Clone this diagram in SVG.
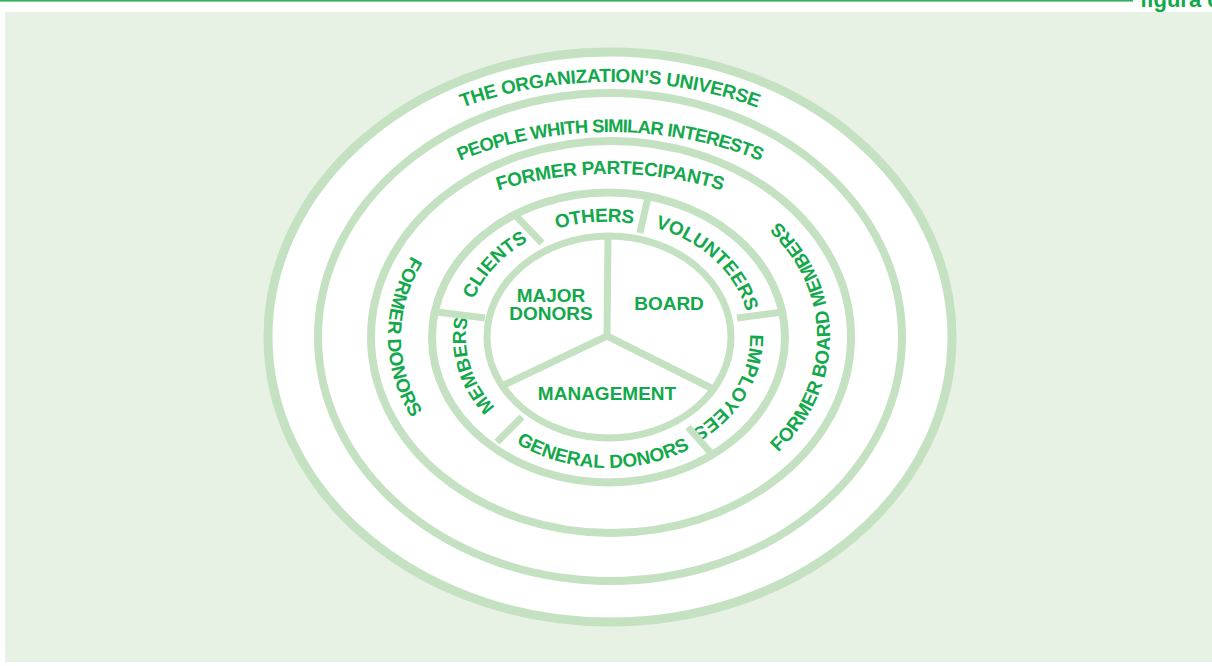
<svg xmlns="http://www.w3.org/2000/svg" width="1212" height="666" viewBox="0 0 1212 666">
<style>
.ring{fill:#ffffff;stroke:#c4e2c2;stroke-width:8}
.div{stroke:#c4e2c2;stroke-width:7;fill:none}
.lbl{font-family:"Liberation Sans",Arial,sans-serif;font-weight:bold;font-size:19px;fill:#12a84b}
.mid{text-anchor:middle}
</style>
<defs>
<path id="pUniverse" d="M 272 337 A 338 255 0 0 1 948 337"/>
<path id="pPeople" d="M 316 337 A 294 205 0 0 1 904 337"/>
<path id="pFormerPart" d="M 356 337 A 254 163 0 0 1 864 337"/>
<path id="pFormerDonors" d="M 498 181.1 A 220 180 0 0 0 498 492.9"/>
<path id="pFormerBoard" d="M 719 492.9 A 222 180 0 0 0 719 181.1"/>
<path id="pOthers" d="M 497 263.5 A 142 116 0 0 1 697.5 249"/>
<path id="pClients" d="M 468.2 357.1 A 142 116 0 0 1 583.3 222.8"/>
<path id="pVolunteers" d="M 609 221 A 142 116 0 0 1 747.5 358"/>
<path id="pEmployees" d="M 741.4 297.3 A 142 116 0 0 1 656.6 446"/>
<path id="pMembers" d="M 532.8 435.4 A 142 116 0 0 1 487.6 275.5"/>
<path id="pGeneral" d="M 483.8 417.1 A 157 131 0 0 0 724.1 425.2"/>
</defs>
<rect x="0" y="0" width="1212" height="666" fill="#ffffff"/>
<rect x="0" y="0" width="1133" height="1.6" fill="#2db35d"/>
<text x="1140" y="7" class="lbl" style="font-size:22px">figura c</text>
<rect x="5" y="12" width="1207" height="650" fill="#e7f1e4"/>

<g id="universe">
<ellipse class="ring" cx="610" cy="337" rx="342" ry="285" style="stroke-width:9"/>
<text class="lbl" style="letter-spacing:-0.3px"><textPath href="#pUniverse" startOffset="50%" class="mid">THE ORGANIZATION’S UNIVERSE</textPath></text>
</g>
<g id="similar-interests">
<ellipse class="ring" cx="610" cy="337" rx="292" ry="244"/>
<text class="lbl" style="font-size:18.5px;letter-spacing:-0.8px"><textPath href="#pPeople" startOffset="50%" class="mid">PEOPLE WHITH SIMILAR INTERESTS</textPath></text>
</g>
<g id="former">
<ellipse class="ring" cx="611" cy="337" rx="240" ry="196"/>
<text class="lbl" style="letter-spacing:-0.3px"><textPath href="#pFormerPart" startOffset="50%" class="mid">FORMER PARTECIPANTS</textPath></text>
<text class="lbl"><textPath href="#pFormerDonors" startOffset="50%" class="mid">FORMER DONORS</textPath></text>
<text class="lbl"><textPath href="#pFormerBoard" startOffset="50%" class="mid">FORMER BOARD MEMBERS</textPath></text>
</g>
<g id="inner-ring">
<ellipse class="ring" cx="608.5" cy="337.5" rx="176.5" ry="145"/>
<text class="lbl" style="letter-spacing:-0.4px"><textPath href="#pOthers" startOffset="50%" class="mid">OTHERS</textPath></text>
<text class="lbl"><textPath href="#pClients" startOffset="50%" class="mid">CLIENTS</textPath></text>
<text class="lbl"><textPath href="#pVolunteers" startOffset="50%" class="mid">VOLUNTEERS</textPath></text>
<text class="lbl"><textPath href="#pEmployees" startOffset="50%" class="mid">EMPLOYEES</textPath></text>
<text class="lbl"><textPath href="#pMembers" startOffset="50%" class="mid">MEMBERS</textPath></text>
<text class="lbl"><textPath href="#pGeneral" startOffset="50%" class="mid">GENERAL DONORS</textPath></text>
</g>
<g id="core">
<ellipse class="ring" cx="609" cy="337" rx="122" ry="101" style="stroke-width:7"/>
<text class="lbl mid" x="551" y="302">MAJOR</text>
<text class="lbl mid" x="551" y="320">DONORS</text>
<text class="lbl mid" x="669" y="310">BOARD</text>
<text class="lbl mid" x="607" y="400">MANAGEMENT</text>
</g>
<g id="connectors">
<path class="div" d="M 607 336 L 608 236 M 607 336 L 502 386 M 607 336 L 715 390"/>
<path class="div" d="M 517 217 L 542 243 M 648 197 L 640 233 M 737 318 L 783 312 M 688 427 L 710 452 M 522 417 L 497 442 M 437 312 L 485 318"/>
</g>
</svg>
